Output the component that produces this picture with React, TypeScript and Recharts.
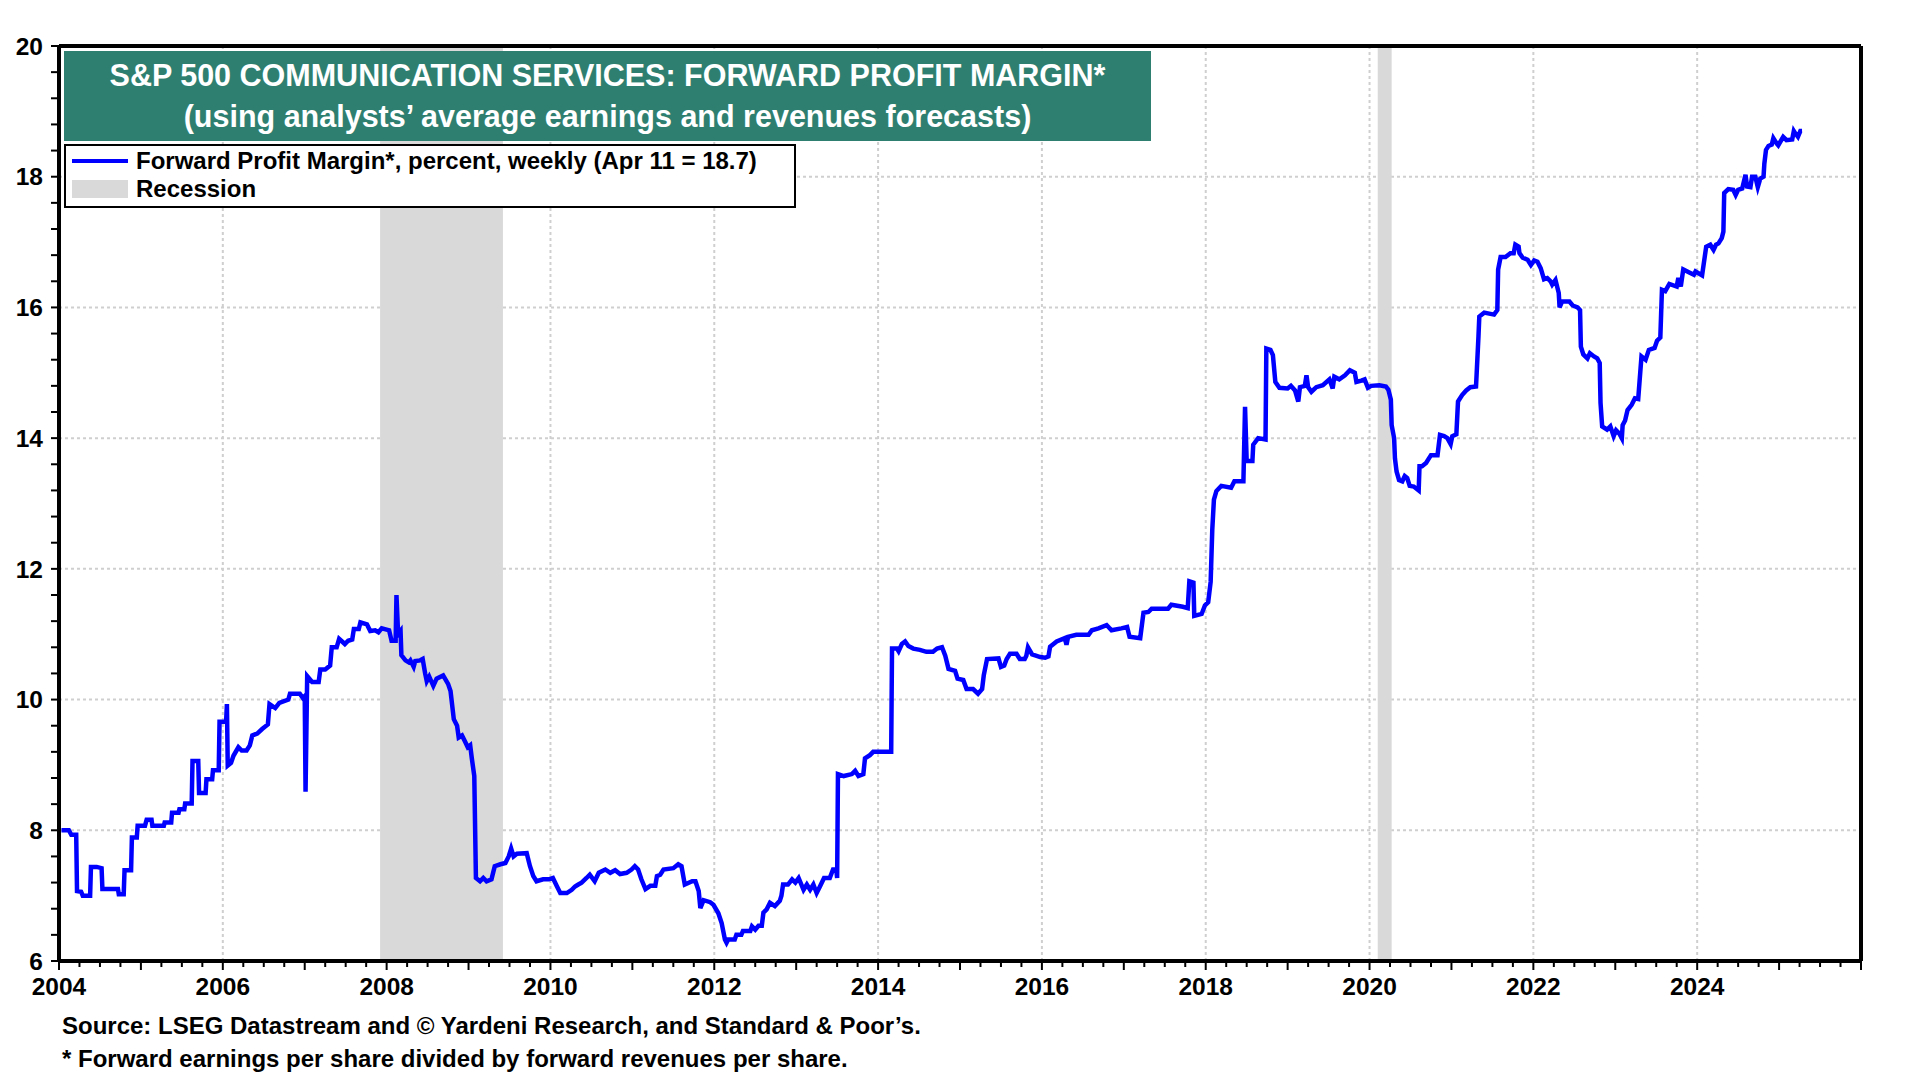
import React from 'react'
import { LineChart, Line, XAxis, YAxis, CartesianGrid, ReferenceArea } from 'recharts'

// Forward profit margin as [year, percent] points
const margin2004to2007: [number, number][] = [
  [2004.03, 8.0], [2004.12, 8.0], [2004.15, 7.93], [2004.21, 7.93], [2004.22, 7.07], [2004.27, 7.06],
  [2004.29, 7.0], [2004.38, 7.0], [2004.39, 7.44], [2004.46, 7.44], [2004.52, 7.42], [2004.53, 7.1],
  [2004.72, 7.1], [2004.73, 7.02], [2004.79, 7.02], [2004.8, 7.39], [2004.88, 7.39], [2004.89, 7.89],
  [2004.95, 7.89], [2004.96, 8.07], [2005.05, 8.07], [2005.07, 8.16], [2005.13, 8.16], [2005.14, 8.07],
  [2005.28, 8.07], [2005.29, 8.12], [2005.37, 8.12], [2005.38, 8.27], [2005.46, 8.27], [2005.47, 8.32],
  [2005.53, 8.32], [2005.54, 8.41], [2005.62, 8.41], [2005.63, 9.06], [2005.7, 9.06], [2005.71, 8.57],
  [2005.79, 8.57], [2005.8, 8.78], [2005.87, 8.78], [2005.88, 8.92], [2005.95, 8.92], [2005.96, 9.66],
  [2006.04, 9.66], [2006.05, 9.93], [2006.06, 8.99], [2006.1, 9.03], [2006.13, 9.14], [2006.19, 9.27],
  [2006.23, 9.22], [2006.29, 9.22], [2006.33, 9.3], [2006.36, 9.45], [2006.42, 9.48], [2006.48, 9.55],
  [2006.55, 9.62], [2006.57, 9.93], [2006.64, 9.87], [2006.69, 9.95], [2006.8, 10.0], [2006.82, 10.09],
  [2006.94, 10.09], [2006.98, 10.02], [2007.0, 10.05], [2007.01, 8.59], [2007.03, 10.36], [2007.09, 10.27],
  [2007.17, 10.27], [2007.19, 10.46], [2007.25, 10.46], [2007.31, 10.52], [2007.33, 10.8], [2007.39, 10.8],
  [2007.42, 10.93], [2007.49, 10.85], [2007.53, 10.9], [2007.58, 10.92], [2007.6, 11.08], [2007.66, 11.08],
  [2007.68, 11.18], [2007.76, 11.15], [2007.8, 11.05], [2007.86, 11.06], [2007.9, 11.03], [2007.94, 11.09],
]

const margin2008to2011: [number, number][] = [
  [2008.0, 11.07], [2008.03, 11.06], [2008.06, 10.9], [2008.11, 10.9], [2008.12, 11.6], [2008.14, 11.0],
  [2008.17, 11.05], [2008.18, 10.68], [2008.23, 10.6], [2008.27, 10.57], [2008.29, 10.6], [2008.33, 10.5],
  [2008.35, 10.59], [2008.41, 10.6], [2008.44, 10.62], [2008.47, 10.4], [2008.49, 10.28], [2008.52, 10.35],
  [2008.57, 10.21], [2008.61, 10.32], [2008.69, 10.37], [2008.75, 10.24], [2008.78, 10.13], [2008.82, 9.7],
  [2008.86, 9.6], [2008.88, 9.42], [2008.92, 9.45], [2008.96, 9.35], [2008.99, 9.27], [2009.02, 9.3],
  [2009.04, 9.1], [2009.07, 8.83], [2009.09, 7.27], [2009.14, 7.22], [2009.18, 7.27], [2009.22, 7.22],
  [2009.28, 7.25], [2009.32, 7.45], [2009.39, 7.48], [2009.45, 7.5], [2009.49, 7.6], [2009.52, 7.72],
  [2009.55, 7.6], [2009.59, 7.64], [2009.71, 7.65], [2009.75, 7.45], [2009.79, 7.3], [2009.83, 7.22],
  [2009.91, 7.25], [2009.98, 7.25], [2010.03, 7.27], [2010.08, 7.14], [2010.12, 7.04], [2010.2, 7.04],
  [2010.26, 7.09], [2010.3, 7.14], [2010.34, 7.17], [2010.38, 7.2], [2010.44, 7.27], [2010.48, 7.32],
  [2010.54, 7.22], [2010.59, 7.35], [2010.67, 7.4], [2010.73, 7.35], [2010.79, 7.39], [2010.85, 7.33],
  [2010.93, 7.35], [2010.99, 7.4], [2011.03, 7.45], [2011.07, 7.4], [2011.11, 7.25], [2011.16, 7.1],
  [2011.22, 7.15], [2011.28, 7.15], [2011.3, 7.3], [2011.34, 7.32], [2011.38, 7.4], [2011.5, 7.42],
  [2011.56, 7.48], [2011.6, 7.45], [2011.64, 7.17], [2011.73, 7.22], [2011.77, 7.22], [2011.81, 7.07],
  [2011.83, 6.81], [2011.87, 6.93], [2011.95, 6.9], [2011.99, 6.86],
]

const margin2012to2015: [number, number][] = [
  [2012.05, 6.73], [2012.09, 6.58], [2012.13, 6.33], [2012.15, 6.28], [2012.17, 6.33], [2012.25, 6.33],
  [2012.27, 6.4], [2012.33, 6.4], [2012.35, 6.46], [2012.44, 6.46], [2012.46, 6.53], [2012.5, 6.48],
  [2012.54, 6.54], [2012.58, 6.54], [2012.6, 6.74], [2012.64, 6.79], [2012.68, 6.89], [2012.74, 6.84],
  [2012.8, 6.92], [2012.82, 7.0], [2012.84, 7.17], [2012.9, 7.17], [2012.95, 7.25], [2012.99, 7.2],
  [2013.03, 7.27], [2013.09, 7.09], [2013.13, 7.17], [2013.17, 7.09], [2013.21, 7.17], [2013.25, 7.04],
  [2013.29, 7.14], [2013.34, 7.27], [2013.41, 7.27], [2013.45, 7.4], [2013.49, 7.4], [2013.5, 7.27],
  [2013.51, 8.86], [2013.58, 8.83], [2013.68, 8.86], [2013.72, 8.91], [2013.76, 8.83], [2013.82, 8.86],
  [2013.84, 9.1], [2013.9, 9.15], [2013.94, 9.2], [2014.16, 9.2], [2014.17, 10.78], [2014.23, 10.78],
  [2014.25, 10.74], [2014.29, 10.85], [2014.33, 10.89], [2014.37, 10.82], [2014.43, 10.78], [2014.51, 10.76],
  [2014.59, 10.73], [2014.67, 10.73], [2014.72, 10.78], [2014.78, 10.8], [2014.82, 10.67], [2014.86, 10.47],
  [2014.94, 10.44], [2014.97, 10.32], [2015.04, 10.3], [2015.08, 10.16], [2015.16, 10.16], [2015.22, 10.09],
  [2015.27, 10.16], [2015.29, 10.37], [2015.33, 10.62], [2015.47, 10.63], [2015.5, 10.5], [2015.54, 10.52],
  [2015.57, 10.62], [2015.61, 10.7], [2015.69, 10.7], [2015.73, 10.62], [2015.79, 10.62], [2015.81, 10.67],
  [2015.83, 10.8], [2015.88, 10.69], [2015.98, 10.65],
]

const margin2016to2019: [number, number][] = [
  [2016.04, 10.64], [2016.08, 10.66], [2016.1, 10.81], [2016.18, 10.89], [2016.28, 10.94], [2016.3, 10.84],
  [2016.32, 10.96], [2016.42, 10.99], [2016.57, 10.99], [2016.61, 11.06], [2016.69, 11.09], [2016.79, 11.14],
  [2016.85, 11.06], [2016.97, 11.09], [2017.04, 11.11], [2017.07, 10.96], [2017.2, 10.94], [2017.24, 11.33],
  [2017.3, 11.34], [2017.34, 11.39], [2017.54, 11.39], [2017.58, 11.45], [2017.72, 11.42], [2017.78, 11.4],
  [2017.8, 11.81], [2017.85, 11.79], [2017.86, 11.28], [2017.95, 11.31], [2017.99, 11.44], [2018.03, 11.49],
  [2018.06, 11.8], [2018.08, 12.6], [2018.1, 13.06], [2018.13, 13.19], [2018.19, 13.27], [2018.31, 13.24],
  [2018.35, 13.34], [2018.46, 13.34], [2018.48, 14.48], [2018.5, 13.65], [2018.57, 13.65], [2018.58, 13.9],
  [2018.64, 14.0], [2018.73, 13.98], [2018.74, 15.37], [2018.79, 15.35], [2018.82, 15.27], [2018.85, 14.86],
  [2018.9, 14.77], [2019.0, 14.76], [2019.04, 14.8], [2019.09, 14.73], [2019.13, 14.56], [2019.15, 14.78],
  [2019.21, 14.8], [2019.23, 14.96], [2019.25, 14.78], [2019.29, 14.71], [2019.35, 14.78], [2019.43, 14.81],
  [2019.51, 14.9], [2019.55, 14.76], [2019.57, 14.94], [2019.63, 14.9], [2019.7, 14.96], [2019.76, 15.04],
  [2019.82, 15.0], [2019.84, 14.86], [2019.9, 14.88], [2019.94, 14.9], [2019.98, 14.77],
]

const margin2020to2022: [number, number][] = [
  [2020.02, 14.8], [2020.12, 14.81], [2020.2, 14.79], [2020.23, 14.74], [2020.26, 14.59], [2020.27, 14.2],
  [2020.3, 14.0], [2020.31, 13.69], [2020.33, 13.49], [2020.36, 13.36], [2020.4, 13.34], [2020.43, 13.42],
  [2020.46, 13.39], [2020.49, 13.27], [2020.54, 13.26], [2020.6, 13.2], [2020.61, 13.57], [2020.64, 13.57],
  [2020.69, 13.62], [2020.75, 13.74], [2020.83, 13.74], [2020.86, 14.05], [2020.91, 14.03], [2020.95, 14.0],
  [2020.99, 13.91], [2021.01, 14.03], [2021.06, 14.06], [2021.08, 14.56], [2021.13, 14.66], [2021.18, 14.73],
  [2021.23, 14.78], [2021.3, 14.79], [2021.33, 15.56], [2021.34, 15.86], [2021.4, 15.92], [2021.52, 15.89],
  [2021.56, 15.96], [2021.57, 16.58], [2021.6, 16.77], [2021.66, 16.77], [2021.72, 16.83], [2021.76, 16.83],
  [2021.78, 16.96], [2021.82, 16.93], [2021.83, 16.83], [2021.87, 16.76], [2021.93, 16.73], [2021.97, 16.65],
  [2022.01, 16.72], [2022.05, 16.7], [2022.09, 16.6], [2022.13, 16.43], [2022.17, 16.45], [2022.21, 16.4],
  [2022.23, 16.35], [2022.27, 16.42], [2022.31, 16.22], [2022.32, 16.0], [2022.35, 16.09], [2022.44, 16.09],
  [2022.48, 16.03], [2022.54, 16.0], [2022.57, 15.96], [2022.58, 15.4], [2022.61, 15.28], [2022.66, 15.22],
  [2022.69, 15.3], [2022.74, 15.25], [2022.78, 15.22], [2022.81, 15.15], [2022.82, 14.54], [2022.84, 14.18],
  [2022.9, 14.13], [2022.94, 14.18], [2022.98, 14.03],
]

const margin2023to2025: [number, number][] = [
  [2023.01, 14.12], [2023.05, 14.07], [2023.08, 14.0], [2023.09, 14.2], [2023.12, 14.27], [2023.15, 14.43],
  [2023.2, 14.51], [2023.24, 14.61], [2023.28, 14.6], [2023.32, 15.25], [2023.37, 15.2], [2023.41, 15.35],
  [2023.48, 15.38], [2023.51, 15.49], [2023.55, 15.54], [2023.56, 15.91], [2023.57, 16.27], [2023.61, 16.25],
  [2023.66, 16.36], [2023.75, 16.32], [2023.77, 16.45], [2023.8, 16.32], [2023.83, 16.58], [2023.91, 16.53],
  [2023.96, 16.5], [2023.98, 16.55], [2024.06, 16.49], [2024.11, 16.93], [2024.16, 16.96], [2024.2, 16.88],
  [2024.23, 16.96], [2024.26, 16.98], [2024.3, 17.06], [2024.32, 17.16], [2024.33, 17.75], [2024.38, 17.81],
  [2024.44, 17.8], [2024.47, 17.72], [2024.5, 17.8], [2024.55, 17.82], [2024.59, 18.03], [2024.61, 17.85],
  [2024.65, 17.84], [2024.67, 18.0], [2024.71, 18.0], [2024.74, 17.84], [2024.77, 17.97], [2024.81, 18.0],
  [2024.82, 18.2], [2024.84, 18.41], [2024.87, 18.47], [2024.91, 18.49], [2024.93, 18.59], [2024.97, 18.51],
  [2024.99, 18.48], [2025.05, 18.61], [2025.09, 18.56], [2025.16, 18.57], [2025.18, 18.7], [2025.2, 18.66],
  [2025.23, 18.61], [2025.26, 18.7], [2025.28, 18.7],
]

// NBER recessions [start, end] in years
const recessions: [number, number][] = [
  [2007.92, 2009.42],
  [2020.1, 2020.27],
]

const yearLabels = [2004, 2006, 2008, 2010, 2012, 2014, 2016, 2018, 2020, 2022, 2024]
const gridYears = [2006, 2008, 2010, 2012, 2014, 2016, 2018, 2020, 2022, 2024]
const yLabels = [6, 8, 10, 12, 14, 16, 18, 20]
const gridValues = [8, 10, 12, 14, 16, 18]

const titleLines = [
  'S&P 500 COMMUNICATION SERVICES: FORWARD PROFIT MARGIN*',
  '(using analysts\u2019 average earnings and revenues forecasts)',
]
const legendLabels = ['Forward Profit Margin*, percent, weekly (Apr 11 = 18.7)', 'Recession']
const footnotes = [
  'Source: LSEG Datastream and \u00a9 Yardeni Research, and Standard & Poor\u2019s.',
  '* Forward earnings per share divided by forward revenues per share.',
]

const quarterTicks = Array.from({ length: 89 }, (_, i) => 2004 + i * 0.25)
const yTicks = Array.from({ length: 36 }, (_, i) => Math.round((6 + i * 0.4) * 10) / 10)

const data = [
  ...margin2004to2007,
  ...margin2008to2011,
  ...margin2012to2015,
  ...margin2016to2019,
  ...margin2020to2022,
  ...margin2023to2025,
].map(([t, v]) => ({ t, v }))

const FONT = '"Liberation Sans", Arial, sans-serif'
const BLUE = '#0000ff'
const TEAL = '#2f7f70'

const yLabel = (v: number) => (yLabels.includes(Math.round(v * 10) / 10) ? String(v) : '')

function XTick(props: any) {
  const { x, y, payload } = props
  const v = payload.value
  const isYear = Math.abs(v - Math.round(v)) < 1e-6
  const showLabel = yearLabels.includes(Math.round(v)) && isYear
  return (
    <g>
      <line x1={x} x2={x} y1={y} y2={y + (isYear ? 9 : 6)} stroke="#000" strokeWidth={2} />
      {showLabel && (
        <text x={x} y={y + 34} textAnchor="middle" fontFamily={FONT} fontWeight="bold" fontSize={24.5} fill="#000">
          {Math.round(v)}
        </text>
      )}
    </g>
  )
}

export default function App() {
  return (
    <div style={{ position: 'absolute', left: 0, top: 0, width: 1920, height: 1080, background: '#fff', fontFamily: FONT }}>
      <LineChart width={1920} height={1080} data={data} margin={{ top: 45, right: 9, left: 9, bottom: 59 }}>
        {recessions.map(([a, b]) => (
          <ReferenceArea key={a} x1={a} x2={b} y1={6} y2={20} fill="#d9d9d9" fillOpacity={1} stroke="none" ifOverflow="hidden" />
        ))}
        <CartesianGrid
          stroke="#cfcfcf"
          strokeWidth={2}
          strokeDasharray="3 3"
          horizontalValues={gridValues}
          verticalValues={gridYears}
        />
        <XAxis
          dataKey="t"
          type="number"
          domain={[2004, 2026]}
          ticks={quarterTicks}
          interval={0}
          height={60}
          tickSize={0}
          tickMargin={0}
          tickLine={false}
          axisLine={{ stroke: '#000', strokeWidth: 4 }}
          tick={(p: any) => <XTick {...p} />}
        />
        <XAxis
          xAxisId="top"
          orientation="top"
          type="number"
          domain={[2004, 2026]}
          height={1}
          tick={false}
          tickLine={false}
          axisLine={{ stroke: '#000', strokeWidth: 4 }}
        />
        <YAxis
          type="number"
          domain={[6, 20]}
          ticks={yTicks}
          interval={0}
          width={50}
          tickSize={8}
          tickMargin={8}
          tickFormatter={yLabel}
          tickLine={{ stroke: '#000', strokeWidth: 2 }}
          axisLine={{ stroke: '#000', strokeWidth: 4 }}
          tick={{ fill: '#000', fontSize: 24.5, fontWeight: 'bold', fontFamily: FONT }}
        />
        <YAxis
          yAxisId="right"
          orientation="right"
          type="number"
          domain={[6, 20]}
          ticks={yTicks}
          interval={0}
          width={50}
          tickSize={8}
          tickMargin={10}
          tickFormatter={yLabel}
          tickLine={{ stroke: '#000', strokeWidth: 2 }}
          axisLine={{ stroke: '#000', strokeWidth: 4 }}
          tick={{ fill: '#000', fontSize: 24.5, fontWeight: 'bold', fontFamily: FONT, dx: 8 }}
        />
        <Line type="linear" dataKey="v" stroke={BLUE} strokeWidth={4.5} dot={false} isAnimationActive={false} />
      </LineChart>

      {/* title box */}
      <div
        style={{
          position: 'absolute', left: 64, top: 51, width: 1087, height: 90, background: TEAL,
          color: '#fff', fontWeight: 'bold', fontSize: 30.5, textAlign: 'center', lineHeight: '41px',
          paddingTop: 4, boxSizing: 'border-box', whiteSpace: 'nowrap',
        }}
      >
        <div>{titleLines[0]}</div>
        <div>{titleLines[1]}</div>
      </div>

      {/* legend box */}
      <div
        style={{
          position: 'absolute', left: 64, top: 144, width: 732, height: 64, background: '#fff',
          border: '2px solid #000', boxSizing: 'border-box', fontWeight: 'bold', fontSize: 24, whiteSpace: 'nowrap',
        }}
      >
        <div style={{ position: 'absolute', left: 6, top: 13, width: 56, height: 4, background: BLUE }} />
        <div style={{ position: 'absolute', left: 70, top: 1, lineHeight: '28px' }}>{legendLabels[0]}</div>
        <div style={{ position: 'absolute', left: 6, top: 34, width: 56, height: 18, background: '#d9d9d9' }} />
        <div style={{ position: 'absolute', left: 70, top: 29, lineHeight: '28px' }}>{legendLabels[1]}</div>
      </div>

      {/* notes */}
      <div style={{ position: 'absolute', left: 62, top: 1009, fontWeight: 'bold', fontSize: 24, lineHeight: '33px', whiteSpace: 'nowrap' }}>
        <div>{footnotes[0]}</div>
        <div>{footnotes[1]}</div>
      </div>
    </div>
  )
}
